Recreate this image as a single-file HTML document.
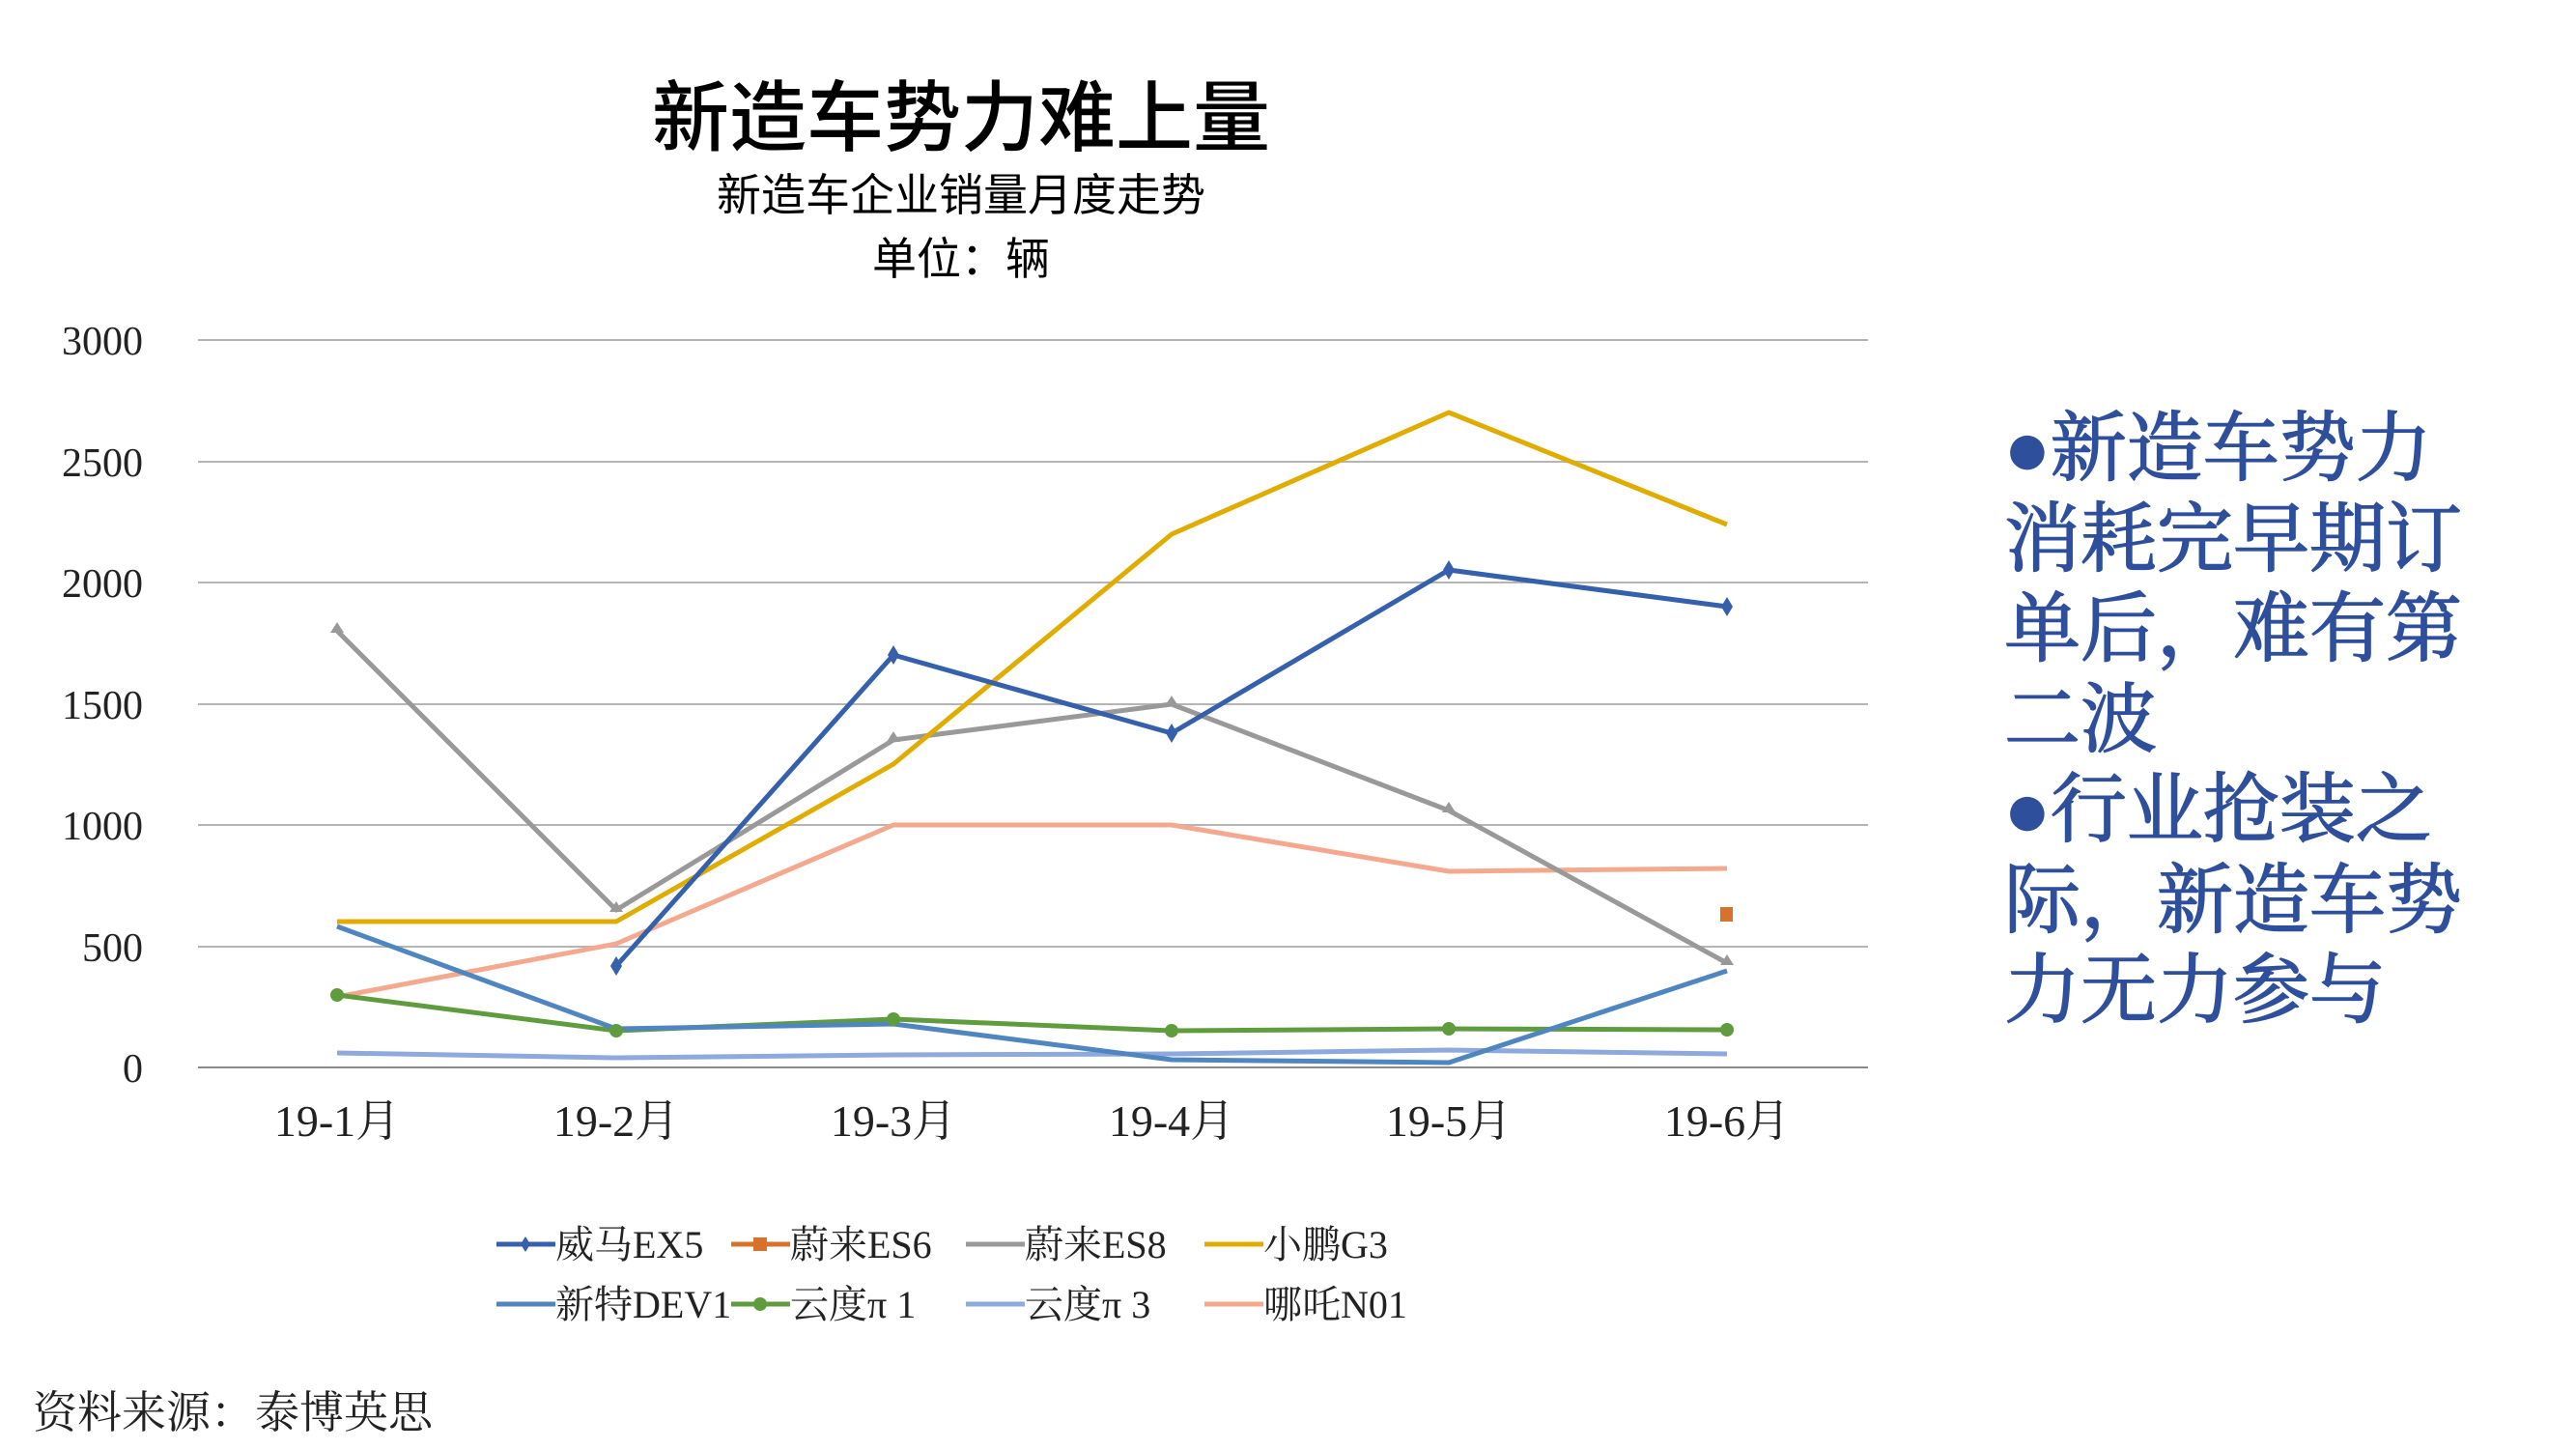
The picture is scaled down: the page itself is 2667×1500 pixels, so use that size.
<!DOCTYPE html>
<html><head><meta charset="utf-8"><style>
html,body{margin:0;padding:0;background:#fff;}
body{width:2667px;height:1500px;overflow:hidden;position:relative;}
svg{position:absolute;left:0;top:0;}
</style></head><body>
<svg width="2667" height="1500" viewBox="0 0 2667 1500" xmlns="http://www.w3.org/2000/svg">
<g font-family="'Liberation Sans','Noto Sans CJK SC',sans-serif" text-anchor="middle" fill="#000">
<text x="995" y="150" font-size="80" font-weight="500">新造车势力难上量</text>
<text x="995" y="218" font-size="46">新造车企业销量月度走势</text>
<text x="995" y="284" font-size="46">单位：辆</text>
</g>
<g stroke="#b5b5b5" stroke-width="2">
<line x1="205" x2="1934" y1="352" y2="352"/><line x1="205" x2="1934" y1="478" y2="478"/>
<line x1="205" x2="1934" y1="603" y2="603"/><line x1="205" x2="1934" y1="729" y2="729"/>
<line x1="205" x2="1934" y1="854" y2="854"/><line x1="205" x2="1934" y1="980" y2="980"/>
<line x1="205" x2="1934" y1="1105" y2="1105" stroke="#8a8a8a"/>
</g>
<g font-family="'Liberation Serif','Noto Serif CJK SC',serif" font-size="42" text-anchor="end" fill="#222">
<text x="148" y="367">3000</text><text x="148" y="493">2500</text><text x="148" y="618">2000</text>
<text x="148" y="744">1500</text><text x="148" y="869">1000</text><text x="148" y="995">500</text><text x="148" y="1120">0</text>
</g>
<g font-family="'Liberation Serif','Noto Serif CJK SC',serif" font-size="46" text-anchor="middle" fill="#222">
<text x="349" y="1176">19-1月</text><text x="638" y="1176">19-2月</text><text x="925" y="1176">19-3月</text>
<text x="1213" y="1176">19-4月</text><text x="1500" y="1176">19-5月</text><text x="1788" y="1176">19-6月</text>
</g>
<g fill="none" stroke-width="5" stroke-linejoin="round">
<polyline stroke="#8EA9DB" points="349,1090 638,1095 925,1092 1213,1091 1500,1087 1788,1091"/>
<polyline stroke="#F4A98E" points="349,1032 638,977 925,854 1213,854 1500,902 1788,899"/>
<polyline stroke="#5E9C3E" points="349,1030 638,1067 925,1055 1213,1067 1500,1065 1788,1066"/>
<polyline stroke="#4F86C0" points="349,959 638,1065 925,1060 1213,1097 1500,1100 1788,1005"/>
<polyline stroke="#999999" points="349,653 638,942 925,766 1213,729 1500,839 1788,997"/>
<polyline stroke="#E0AC00" points="349,954 638,954 925,791 1213,553 1500,427 1788,543"/>
<polyline stroke="#3460AC" points="638,1000 925,678 1213,759 1500,590 1788,628"/>
</g>
<rect x="1781" y="939" width="13" height="15" fill="#D9712B"/>
<g fill="#3460AC"><path d="M638,990 l6,10 -6,10 -6,-10z"/><path d="M925,668 l6,10 -6,10 -6,-10z"/><path d="M1213,749 l6,10 -6,10 -6,-10z"/><path d="M1500,580 l6,10 -6,10 -6,-10z"/><path d="M1788,618 l6,10 -6,10 -6,-10z"/></g>
<g fill="#999"><path d="M349,644 l7,11 -14,0z"/><path d="M638,933 l7,11 -14,0z"/><path d="M925,757 l7,11 -14,0z"/><path d="M1213,720 l7,11 -14,0z"/><path d="M1500,830 l7,11 -14,0z"/><path d="M1788,988 l7,11 -14,0z"/></g>
<g fill="#5E9C3E"><circle cx="349" cy="1030" r="7"/><circle cx="638" cy="1067" r="7"/><circle cx="925" cy="1055" r="7"/><circle cx="1213" cy="1067" r="7"/><circle cx="1500" cy="1065" r="7"/><circle cx="1788" cy="1066" r="7"/></g>
<g font-family="'Liberation Serif','Noto Serif CJK SC',serif" font-size="40" fill="#222">
<line x1="514" x2="575" y1="1288" y2="1288" stroke="#3460AC" stroke-width="5"/><path d="M544,1280 l5,8 -5,8 -5,-8z" fill="#3460AC"/><text x="575" y="1302">威马EX5</text>
<line x1="757" x2="818" y1="1288" y2="1288" stroke="#D9712B" stroke-width="5"/><rect x="780" y="1281" width="14" height="14" fill="#D9712B"/><text x="818" y="1302">蔚来ES6</text>
<line x1="1000" x2="1061" y1="1288" y2="1288" stroke="#999" stroke-width="5"/><text x="1061" y="1302">蔚来ES8</text>
<line x1="1247" x2="1308" y1="1288" y2="1288" stroke="#E0AC00" stroke-width="5"/><text x="1308" y="1302">小鹏G3</text>
<line x1="514" x2="575" y1="1350" y2="1350" stroke="#4F86C0" stroke-width="5"/><text x="575" y="1364">新特DEV1</text>
<line x1="757" x2="818" y1="1350" y2="1350" stroke="#5E9C3E" stroke-width="5"/><circle cx="787" cy="1350" r="7" fill="#5E9C3E"/><text x="818" y="1364">云度π 1</text>
<line x1="1000" x2="1061" y1="1350" y2="1350" stroke="#8EA9DB" stroke-width="5"/><text x="1061" y="1364">云度π 3</text>
<line x1="1247" x2="1308" y1="1350" y2="1350" stroke="#F4A98E" stroke-width="5"/><text x="1308" y="1364">哪吒N01</text>
</g>
<text x="34" y="1478" font-family="'Liberation Serif','Noto Serif CJK SC',serif" font-size="46" fill="#222">资料来源：泰博英思</text>
<g font-family="'Liberation Serif','Noto Serif CJK SC',serif" font-size="79" fill="#2E4F9C" stroke="#2E4F9C" stroke-width="1.5">
<text x="2075" y="491">●新造车势力</text>
<text x="2075" y="585">消耗完早期订</text>
<text x="2075" y="678">单后，难有第</text>
<text x="2075" y="772">二波</text>
<text x="2075" y="865">●行业抢装之</text>
<text x="2075" y="959">际，新造车势</text>
<text x="2075" y="1052">力无力参与</text>
</g>
</svg>
</body></html>
